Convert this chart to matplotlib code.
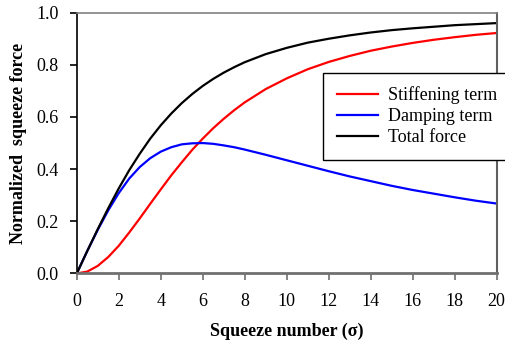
import matplotlib
matplotlib.use("Agg")
import matplotlib.pyplot as plt

# values
sigma = [0, 0.5, 1, 1.5, 2, 2.5, 3, 3.5, 4, 4.5, 5, 5.5, 6, 6.5, 7, 7.5, 8,
         9, 10, 11, 12, 13, 14, 15, 16, 17, 18, 19, 20]
stiffening = [0.0, 0.007, 0.029, 0.063, 0.106, 0.157, 0.211, 0.267, 0.322, 0.376,
              0.426, 0.474, 0.517, 0.557, 0.593, 0.626, 0.656,
              0.707, 0.748, 0.783, 0.811, 0.834, 0.854, 0.870, 0.884, 0.896,
              0.906, 0.915, 0.922]
damping = [0.0, 0.086, 0.167, 0.242, 0.308, 0.364, 0.408, 0.442, 0.467, 0.484,
           0.495, 0.499, 0.500, 0.497, 0.491, 0.484, 0.475,
           0.455, 0.434, 0.413, 0.392, 0.372, 0.354, 0.336, 0.320, 0.306,
           0.292, 0.279, 0.268]
total = [0.0, 0.086, 0.170, 0.250, 0.326, 0.396, 0.459, 0.517, 0.568, 0.613,
         0.653, 0.688, 0.719, 0.746, 0.770, 0.791, 0.810,
         0.841, 0.865, 0.885, 0.900, 0.913, 0.924, 0.933, 0.940, 0.946,
         0.952, 0.956, 0.960]

plt.rcParams["font.family"] = ["Liberation Serif", "DejaVu Serif"]
plt.rcParams["font.size"] = 13

fig = plt.figure(figsize=(5.05, 3.47), dpi=100)
ax = fig.add_axes([0.152, 0.212, 0.8315, 0.7515])

ax.plot(sigma, stiffening, "-", color="#ff0000", lw=1.6, label="Stiffening term")
ax.plot(sigma, damping, "-", color="#0000ff", lw=1.6, label="Damping term")
ax.plot(sigma, total, "-", color="#000000", lw=1.6, label="Total force")

ax.set_xlim(0, 20)
ax.set_ylim(0, 1.0)
ax.set_xticks(range(0, 21, 2))
ax.set_yticks([0.0, 0.2, 0.4, 0.6, 0.8, 1.0])
ax.set_yticklabels(["0.0", "0.2", "0.4", "0.6", "0.8", "1.0"])

ax.spines["left"].set_color("black")
ax.spines["left"].set_linewidth(1.2)
ax.spines["bottom"].set_color("#707070")
ax.spines["bottom"].set_linewidth(2)
ax.spines["top"].set_color("#808080")
ax.spines["top"].set_linewidth(1.2)
ax.spines["right"].set_color("#606060")
ax.spines["right"].set_linewidth(1.5)
ax.tick_params(axis="x", direction="out", length=5, width=1.2, color="#707070", pad=9)
ax.tick_params(axis="y", direction="out", length=5, width=1.2, color="black", pad=8)

ax.set_xlabel("Squeeze number (σ)", fontweight="bold", labelpad=9)
ax.set_ylabel("Normalized  squeeze force", fontweight="bold", labelpad=7)

leg = ax.legend(loc="upper left", bbox_to_anchor=(0.587, 0.770), frameon=True,
                fancybox=False, edgecolor="black", framealpha=1,
                handlelength=2.27, handletextpad=0.57, labelspacing=0.22,
                borderpad=0.75, borderaxespad=0)
leg.get_frame().set_linewidth(1.0)

fig.savefig("out.png", dpi=100)
